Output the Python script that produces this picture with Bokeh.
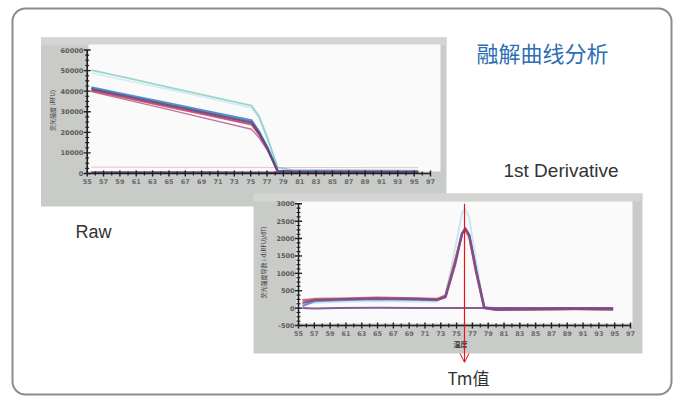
import math
from bokeh.plotting import figure
from bokeh.models import Range1d, Arrow, OpenHead
from bokeh.core.properties import value
from bokeh.embed import file_html
from bokeh.resources import INLINE

# ---------------- data ----------------
TITLE = "融解曲线分析"
RAW_LABEL = "Raw"
DER_LABEL = "1st  Derivative"
TM_LABEL = "Tm值"

TEMP_TICKS = [55, 57, 59, 61, 63, 65, 67, 69, 71, 73, 75, 77, 79, 81, 83, 85, 87, 89, 91, 93, 95, 97]
TEMP_TICK_LABELS = [str(t) for t in TEMP_TICKS]

RAW_Y_TICKS = [0, 10000, 20000, 30000, 40000, 50000, 60000]
RAW_Y_LABELS = ["0", "10000", "20000", "30000", "40000", "50000", "60000"]
DER_Y_TICKS = [-500, 0, 500, 1000, 1500, 2000, 2500, 3000]
DER_Y_LABELS = ["-500", "0", "500", "1000", "1500", "2000", "2500", "3000"]

RAW_Y_TITLE = "荧光强度 (RFU)"
DER_Y_TITLE = "荧光强度导数 (-d(RFU)/dT)"
X_TITLE = "温度"

# raw melt curves (RFU)
RAW_TEMP = [55.5, 60, 65, 70, 75.1, 76.0, 77.0, 78.3, 80, 85, 90, 95.5]
RAW_CYAN_FAINT = [48800, 45000, 40800, 36500, 31800, 27000, 17000, 2500, 1700, 1500, 1400, 1300]
RAW_TEAL = [50200, 46300, 41900, 37500, 33000, 28000, 18000, 3000, 1800, 1600, 1500, 1400]
RAW_MAGENTA = [39800, 35600, 31000, 26300, 21500, 17500, 11500, 1300, 1100, 1000, 900, 900]
RAW_RED = [40300, 36500, 32300, 28100, 23800, 19000, 12200, 1200, 900, 800, 700, 700]
RAW_BLUE = [41800, 38100, 34000, 29900, 25750, 20500, 13000, 1200, 1000, 900, 850, 800]
RAW_PURPLE = [41000, 37300, 33100, 29000, 24700, 19800, 12600, 1100, 900, 850, 800, 800]
RAW_NTC_PINK = [3100, 3050, 3000, 3000, 2950, 2950, 2950, 2900, 2900, 2900, 2850, 2850]
RAW_NTC_DARK = [600, 580, 560, 550, 540, 540, 530, 520, 520, 510, 500, 500]

# first derivative (-dRFU/dT)
DER_TEMP = [55.5, 57, 60, 65, 70, 72.5, 73.6, 74.8, 75.7, 76.1, 76.6, 77.5, 78.5, 80, 85, 90, 94.8]
DER_CYAN_FAINT = [100, 150, 180, 200, 190, 180, 400, 1700, 2750, 2850, 2600, 1300, 50, 0, 0, 0, 0]
DER_BLUE = [60, 200, 230, 260, 240, 230, 330, 1300, 2150, 2300, 2100, 1050, 20, -30, -30, -20, -30]
DER_RED = [230, 260, 270, 300, 280, 260, 360, 1350, 2150, 2250, 2050, 1000, 0, -50, -40, -30, -40]
DER_PURPLE = [150, 230, 250, 280, 260, 240, 320, 1250, 2150, 2280, 2100, 1050, 10, -40, -30, -20, -30]
DER_NTC = [0, -10, 0, 10, 0, 0, 0, 0, 0, 0, 0, 0, 0, 0, 0, 0, 0]
TM = 76.0

# ---------------- layout (page pixels of the reference) ----------------
W, H = 677, 397
FX0, FX1, FY0, FY1 = 0, W, 0, H  # frame in image px


def xrange_for(a, b, pa, pb):
    k = (b - a) / (pb - pa)
    return Range1d(a + (FX0 - pa) * k, a + (FX1 - pa) * k)


def yrange_for(a, b, pa, pb):
    k = (b - a) / (pb - pa)
    return Range1d(a + (FY1 - pa) * k, a + (FY0 - pa) * k)


p = figure(width=W, height=H, output_backend="svg", toolbar_location=None,
           x_range=Range1d(FX0, FX1), y_range=Range1d(FY1, FY0),
           x_axis_location=None, y_axis_location=None, min_border=0,
           outline_line_color=None, background_fill_color="white",
           border_fill_color="white")
p.xgrid.visible = False
p.ygrid.visible = False

p.extra_x_ranges = {
    "rawx": xrange_for(TEMP_TICKS[0], TEMP_TICKS[-1], 86.7, 430),
    "derx": xrange_for(TEMP_TICKS[0], TEMP_TICKS[-1], 298, 630),
}
p.extra_y_ranges = {
    "rawy": yrange_for(RAW_Y_TICKS[0], RAW_Y_TICKS[-1], 173, 49.5),
    "dery": yrange_for(DER_Y_TICKS[0], DER_Y_TICKS[-1], 325, 203.3),
}

SMALL = value("DejaVu Sans")
CJK = value("Noto Sans CJK SC")
SANS = value("Liberation Sans")


def chart(xr, yr, outer, inner, yticks, ylabels, ytitle, ytitle_pos, series, xtitle_pos=None):
    # panel
    p.quad(left=outer[0], right=outer[1], top=outer[2], bottom=outer[3],
           fill_color="#c9cbc9", line_color=None)
    p.quad(left=outer[0], right=outer[1], top=outer[2], bottom=outer[2] + 8,
           fill_color="#d3d5d3", line_color=None)
    p.quad(left=inner[0], right=inner[1], top=inner[2], bottom=inner[3],
           fill_color="#fbfafa", line_color=None)
    kw = dict(x_range_name=xr, y_range_name=yr)
    # curves
    for ys, color, width, alpha in series:
        p.line(series_x[xr], ys, line_color=color, line_width=width, line_alpha=alpha,
               line_join="round", **kw)
    x0, x1 = TEMP_TICKS[0], TEMP_TICKS[-1]
    y0, y1 = yticks[0], yticks[-1]
    # axes
    p.segment(x0=[x0, x0], y0=[y0, y0], x1=[x1, x0], y1=[y0, y1],
              line_color="#1e1e1e", line_width=1.6, **kw)
    minor_x = [(a + b) / 2 for a, b in zip(TEMP_TICKS[:-1], TEMP_TICKS[1:])]
    p.scatter(TEMP_TICKS, [y0] * len(TEMP_TICKS), marker="dash", angle=math.pi / 2,
              size=6, line_color="#1e1e1e", line_width=1.4, **kw)
    p.scatter(minor_x, [y0] * len(minor_x), marker="dash", angle=math.pi / 2,
              size=4, line_color="#1e1e1e", line_width=1.2, **kw)
    minor_y = [a + (b - a) * f for a, b in zip(yticks[:-1], yticks[1:]) for f in (0.25, 0.5, 0.75)]
    p.scatter([x0] * len(yticks), yticks, marker="dash", size=7,
              line_color="#1e1e1e", line_width=1.4, **kw)
    p.scatter([x0] * len(minor_y), minor_y, marker="dash", size=4,
              line_color="#1e1e1e", line_width=1.1, **kw)
    # tick labels
    p.text(TEMP_TICKS, [y0] * len(TEMP_TICKS), text=TEMP_TICK_LABELS, y_offset=8,
           text_align="center", text_baseline="middle", text_font=SMALL,
           text_font_size="6.5px", text_color="#6a6a6a", text_font_style="bold", **kw)
    p.text([x0] * len(yticks), yticks, text=ylabels, x_offset=-4,
           text_align="right", text_baseline="middle", text_font=SMALL,
           text_font_size="6.5px", text_color="#5a5a5a", text_font_style="bold", **kw)
    # axis titles (page px)
    p.text([ytitle_pos[0]], [ytitle_pos[1]], text=[ytitle], angle=math.pi / 2,
           text_align="center", text_baseline="middle", text_font=CJK,
           text_font_size="6px", text_color="#3a3a3a")
    if xtitle_pos:
        p.text([xtitle_pos[0]], [xtitle_pos[1]], text=[X_TITLE],
               text_align="center", text_baseline="middle", text_font=CJK,
               text_font_size="7px", text_color="#3a3a3a", text_font_style="bold")


series_x = {"rawx": RAW_TEMP, "derx": DER_TEMP}

chart("rawx", "rawy", (40.5, 446, 37, 206), (88, 440, 44, 171),
      RAW_Y_TICKS, RAW_Y_LABELS, RAW_Y_TITLE, (52, 110),
      [(RAW_CYAN_FAINT, "#8fd3ea", 1.5, 0.4),
       (RAW_TEAL, "#5cbfa8", 1.8, 0.6),
       (RAW_NTC_PINK, "#e58aa0", 1.0, 0.5),
       (RAW_MAGENTA, "#b0508e", 1.3, 0.8),
       (RAW_RED, "#cc4455", 1.8, 0.9),
       (RAW_BLUE, "#3f86c4", 2.4, 0.9),
       (RAW_PURPLE, "#6b3f7a", 2.2, 0.9),
       (RAW_NTC_DARK, "#6a3f8a", 2.0, 0.9)])

chart("derx", "dery", (253, 642, 193, 353), (296, 632, 201, 323),
      DER_Y_TICKS, DER_Y_LABELS, DER_Y_TITLE, (263, 262),
      [(DER_CYAN_FAINT, "#8fd3ea", 1.8, 0.5),
       (DER_BLUE, "#5a74b8", 2.2, 0.8),
       (DER_RED, "#c8505a", 2.4, 0.85),
       (DER_PURPLE, "#7b4a8c", 2.4, 0.9),
       (DER_NTC, "#7b4a8c", 2.0, 0.9)],
      xtitle_pos=(460, 343))

# Tm marker
p.add_layout(Arrow(end=OpenHead(size=9, line_color="#e8141c", line_width=1),
                   x_start=TM, y_start=DER_Y_TICKS[-1], x_end=TM, y_end=-1560,
                   x_range_name="derx", y_range_name="dery",
                   line_color="#e8141c", line_width=1.2))

# texts
p.text([476], [51], text=[TITLE], text_align="left", text_baseline="middle",
       text_font=CJK, text_font_size="22px", text_color="#2d6eb4")
p.text([503], [170], text=[DER_LABEL], text_align="left", text_baseline="middle",
       text_font=SANS, text_font_size="19px", text_color="#333333")
p.text([75], [231], text=[RAW_LABEL], text_align="left", text_baseline="middle",
       text_font=SANS, text_font_size="18px", text_color="#333333")
p.text([468], [377], text=[TM_LABEL], text_align="center", text_baseline="middle",
       text_font=CJK, text_font_size="17px", text_color="#333333")

# rounded frame
p.quad(left=[12], right=[671], top=[8], bottom=[394], fill_color=None,
       line_color="#8c8c8c", line_width=2, border_radius=13)

open("out.html", "w").write(file_html(p, INLINE))
